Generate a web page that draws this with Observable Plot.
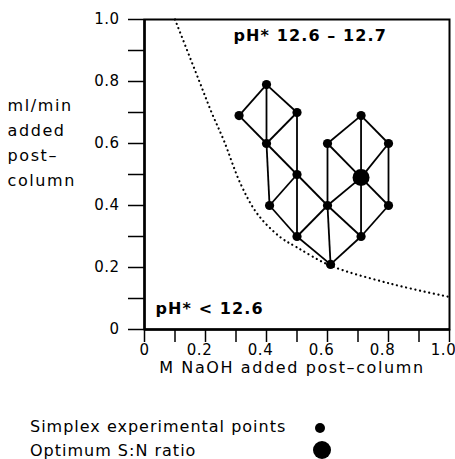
<!DOCTYPE html>
<html><head><meta charset="utf-8">
<script src="https://cdn.jsdelivr.net/npm/d3@7"></script>
<script src="https://cdn.jsdelivr.net/npm/@observablehq/plot@0.6"></script>
<style>
body{margin:0;background:#fff;}
#wrap{width:455px;height:459px;overflow:hidden;}
#wrap svg{display:block;overflow:visible;}
</style></head>
<body><div id="wrap"></div>
<script>
// Simplex experimental points (M NaOH, ml/min)
const nodeX = [0.31,0.40,0.50,0.40,0.50,0.41,0.50,0.60,0.61,0.60,0.71,0.80,0.71,0.80,0.71];
const nodeY = [0.69,0.79,0.70,0.60,0.50,0.40,0.30,0.40,0.21,0.60,0.69,0.60,0.49,0.40,0.30];
const optimumIndex = 12;
// simplex edges (pairs of node indices)
const edgeFrom = [0,1,1,0,3,2,3,3,4,4,4,5,6,6,7,7,9, 9,10,10,11,11,12,12,12,7, 13,14];
const edgeTo   = [1,2,3,3,2,4,4,5,5,6,7,6,7,8,8,9,10,12,11,12,12,13,7, 13,14,14,14,8];
// dotted boundary curve
const curveX = [0.10,0.18,0.22,0.26,0.315,0.37,0.445,0.50,0.61,0.81,1.00];
const curveY = [1.00,0.80,0.70,0.61,0.47,0.373,0.298,0.265,0.206,0.147,0.105];
// ticks
const majorTicks = [0,0.2,0.4,0.6,0.8,1.0];
const tickLabels = ["0","0.2","0.4","0.6","0.8","1.0"];
const minorTicks = [0.1,0.3,0.5,0.7,0.9];
// texts
const xLabel = "M NaOH added post\u2013column";
const yLabel = "ml/min\nadded\npost\u2013\ncolumn";
const regionLabels = ["pH* 12.6 \u2013 12.7","pH* < 12.6"];
const regionX = [0.292,0.036];
const regionY = [0.948,0.065];
const legendLabels = ["Simplex experimental points","Optimum S:N ratio"];
const legendRadius = [5,9];

const FONT = "DejaVu Sans, sans-serif";
const nodes = nodeX.map((x,i)=>({x, y:nodeY[i], opt: i===optimumIndex}));
const edges = edgeFrom.map((a,i)=>({a:nodes[a], b:nodes[edgeTo[i]]}));
const curve = curveX.map((x,i)=>({x, y:curveY[i]}));
const regions = regionLabels.map((t,i)=>({t, x:regionX[i], y:regionY[i]}));
const labelMap = new Map(majorTicks.map((d,i)=>[d,tickLabels[i]]));

const plot = Plot.plot({
  width:455, height:400,
  marginLeft:144, marginRight:6, marginTop:19, marginBottom:71,
  x:{domain:[0,1]}, y:{domain:[0,1]},
  style:{fontFamily:FONT, fontSize:"15px", color:"#000", background:"#fff"},
  marks:[
    Plot.axisY(minorTicks,{tickSize:16, tickFormat:()=>"", strokeWidth:1.5, label:null}),
    Plot.axisY(majorTicks,{tickSize:16, tickPadding:9, tickFormat:d=>labelMap.get(d), strokeWidth:1.5, label:null, fontSize:15}),
    Plot.axisX(minorTicks,{tickSize:13, tickFormat:()=>"", strokeWidth:1.5, label:null}),
    Plot.axisX(majorTicks,{tickSize:13, tickFormat:()=>"", strokeWidth:1.5, label:null}),
    Plot.axisX(majorTicks.slice(0,1),{tickSize:13, tickPadding:2, tickFormat:d=>labelMap.get(d), strokeWidth:0, label:null, fontSize:15}),
    Plot.axisX(majorTicks.slice(1),{tickSize:13, tickPadding:2, dx:-6, tickFormat:d=>labelMap.get(d), strokeWidth:0, label:null, fontSize:15}),
    Plot.frame({strokeWidth:2}),
    Plot.ruleX([0],{strokeWidth:2.5}),
    Plot.ruleY([0],{strokeWidth:2.5}),
    Plot.line(curve,{x:"x", y:"y", curve:"catmull-rom", stroke:"#000", strokeWidth:2.2, strokeDasharray:"0.1,4.6", strokeLinecap:"round"}),
    Plot.link(edges,{x1:d=>d.a.x, y1:d=>d.a.y, x2:d=>d.b.x, y2:d=>d.b.y, stroke:"#000", strokeWidth:1.8}),
    Plot.dot(nodes,{filter:d=>!d.opt, x:"x", y:"y", r:4.6, fill:"#000", stroke:null}),
    Plot.dot(nodes,{filter:d=>d.opt, x:"x", y:"y", r:8.5, fill:"#000", stroke:null}),
    Plot.text(regions,{x:"x", y:"y", text:"t", textAnchor:"start", fontSize:16, fontWeight:"bold"}),
    Plot.text([xLabel],{frameAnchor:"bottom", dy:43, dx:-5, fontSize:16}),
    Plot.text([yLabel],{frameAnchor:"top-left", dx:-137, dy:74, textAnchor:"start", lineAnchor:"top", lineHeight:1.55, fontSize:16})
  ]
});
// letter spacing tweaks to approximate the wide geometric typeface
const yFlat = yLabel.replace(/\n/g,"");
d3.select(plot).selectAll("text").each(function(){
  const s = this.textContent;
  let ls = null;
  if (s === xLabel) ls = "1.6px";
  else if (tickLabels.includes(s)) ls = "0.5px";
  else if (regionLabels.includes(s)) ls = "1.1px";
  else if (s === yFlat) ls = "1.6px";
  if (ls) this.style.letterSpacing = ls;
});
document.getElementById("wrap").appendChild(plot);

// legend below
const lg = d3.select("#wrap").append("svg").attr("width",455).attr("height",59)
  .style("font-family",FONT).style("font-size","16px").style("letter-spacing","1px");
const rowY = [26,50];
legendLabels.forEach((t,i)=>{
  lg.append("text").attr("x",30).attr("y",rowY[i]).attr("dominant-baseline","central").text(t);
  lg.append("circle").attr("cx",320+ (legendRadius[i]>6?2:0)).attr("cy",rowY[i]+ (i===0?2:0)).attr("r",legendRadius[i]).attr("fill","#000");
});
</script>
</body></html>
